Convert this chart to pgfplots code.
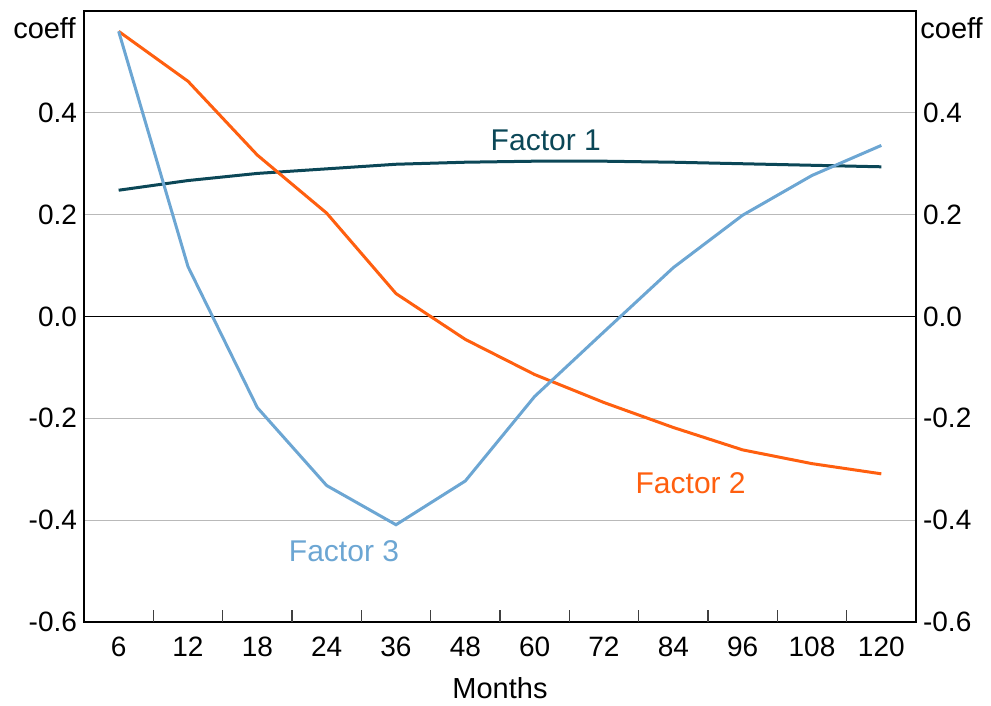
\documentclass[border=0pt]{standalone}
\usepackage{pgfplots}
\pgfplotsset{compat=1.18}
\usepackage{fontspec}
\setmainfont{Liberation Sans}
\usetikzlibrary{calc}

\definecolor{fone}{HTML}{0B4757}
\definecolor{ftwo}{HTML}{FF5F0F}
\definecolor{fthree}{HTML}{6CA6D3}

\pgfplotsset{
  chartbase/.style={
    scale only axis, width=416pt, height=305.5pt,
    xmin=-0.5, xmax=11.5, ymin=-0.6, ymax=0.6,
    ytick={-0.6,-0.4,...,0.41},
    yticklabel style={/pgf/number format/fixed, /pgf/number format/fixed zerofill, /pgf/number format/precision=1},
    /pgf/number format/assume math mode=true,
    major tick length=0pt,
    tick label style={font=\fontsize{14}{16}\selectfont},
  }
}

\begin{document}
\begin{tikzpicture}
\begin{axis}[chartbase,
    axis line style={black, line width=0.6pt},
    xtick={0,...,11},
    xticklabels={6,12,18,24,36,48,60,72,84,96,108,120},
    xtick pos=bottom, ytick pos=left,
    extra x ticks={0.5,1.5,...,10.5},
    extra x tick labels={},
    extra x tick style={major tick length=6pt, tick align=inside, tick style={black!75, line width=0.6pt}},
    ymajorgrids, grid style={gray!55, line width=0.6pt},
    xlabel={Months},
    xlabel style={font=\fontsize{14.5}{16}\selectfont, yshift=-3.5pt},
    xticklabel style={yshift=-4pt},
    clip=false,
  ]
  \draw[black, line width=0.6pt] (axis cs:-0.5,0) -- (axis cs:11.5,0);
  \addplot[fone, line width=1.5pt] coordinates {
    (0,0.248) (1,0.267) (2,0.281) (3,0.290) (4,0.299) (5,0.303)
    (6,0.305) (7,0.305) (8,0.303) (9,0.300) (10,0.297) (11,0.294)};
  \addplot[ftwo, line width=1.5pt] coordinates {
    (0,0.560) (1,0.462) (2,0.317) (3,0.203) (4,0.045) (5,-0.045)
    (6,-0.114) (7,-0.169) (8,-0.218) (9,-0.262) (10,-0.289) (11,-0.309)};
  \addplot[fthree, line width=1.5pt] coordinates {
    (0,0.560) (1,0.098) (2,-0.179) (3,-0.332) (4,-0.409) (5,-0.323)
    (6,-0.157) (7,-0.030) (8,0.096) (9,0.199) (10,0.277) (11,0.336)};
  \node[fone, font=\fontsize{15}{17}\selectfont] at (axis cs:6.16,0.346) {Factor 1};
  \node[ftwo, font=\fontsize{15}{17}\selectfont] at (axis cs:8.25,-0.328) {Factor 2};
  \node[fthree, font=\fontsize{15}{17}\selectfont] at (axis cs:3.25,-0.46) {Factor 3};
  \node[anchor=north east, font=\fontsize{14.5}{16}\selectfont, inner sep=0pt] at ($(rel axis cs:0,1)+(-4pt,-3pt)$) {coeff};
  \node[anchor=north west, font=\fontsize{14.5}{16}\selectfont, inner sep=0pt] at ($(rel axis cs:1,1)+(2pt,-3pt)$) {coeff};
\end{axis}
\begin{axis}[chartbase,
    axis x line=none, axis y line*=right,
    axis line style={black, line width=0.6pt},
  ]
  \addplot[draw=none] coordinates {(0,0)};
\end{axis}
\path[use as bounding box] ($(current axis.south west)+(-42pt,-40pt)$) rectangle ($(current axis.north east)+(37.5pt,5.5pt)$);
\end{tikzpicture}
\end{document}
